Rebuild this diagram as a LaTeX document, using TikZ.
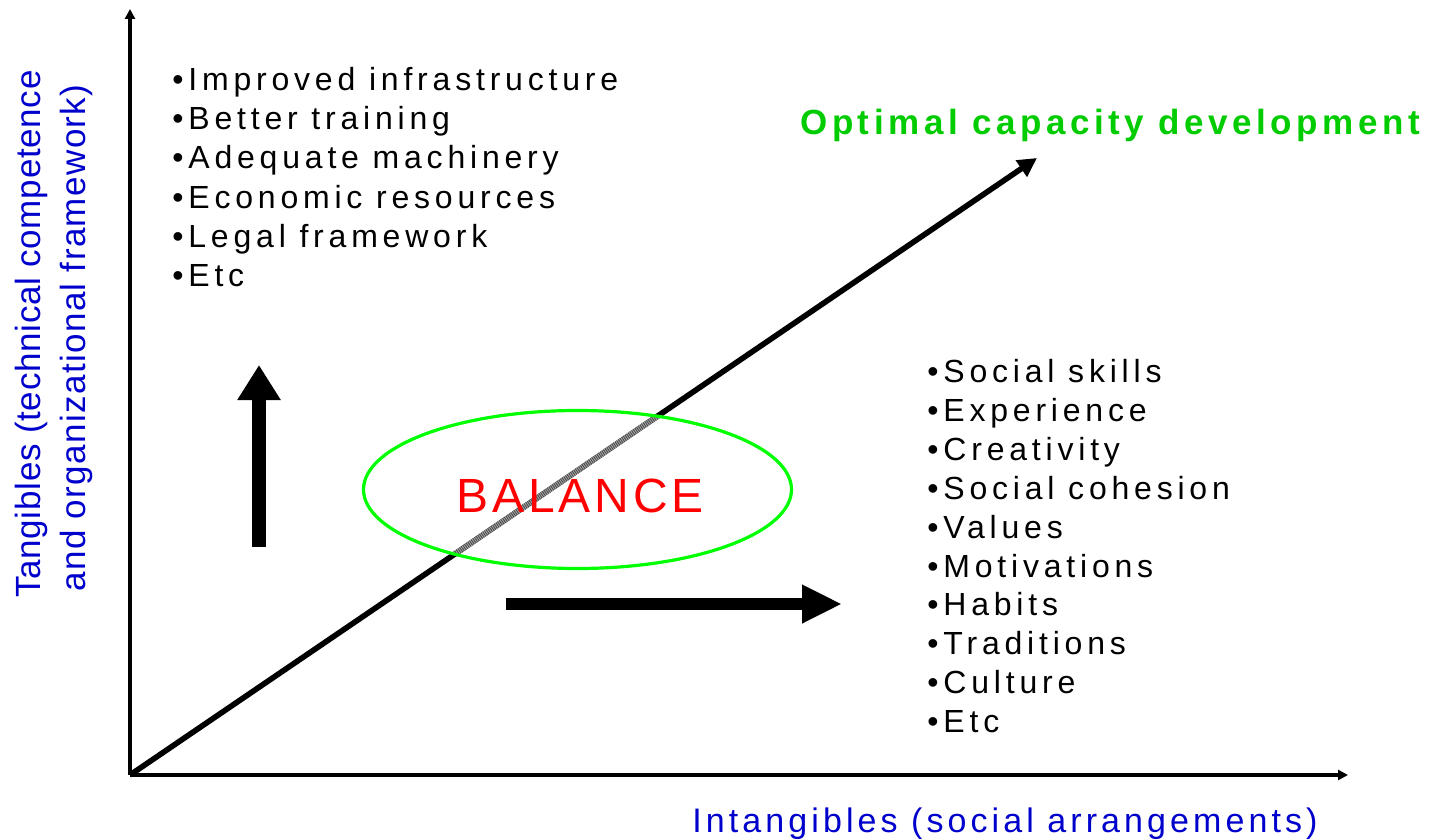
\documentclass[tikz,border=0pt]{standalone}
\usepackage{fontspec}
\setmainfont{Liberation Sans}
\newfontfamily\listfont[LetterSpace=15]{Liberation Sans}
\newfontfamily\titlefont[LetterSpace=13]{Liberation Sans}
\newfontfamily\xlabfont[LetterSpace=12]{Liberation Sans}
\newfontfamily\ylabfont[LetterSpace=2]{Liberation Sans}
\newfontfamily\ylabfontb[LetterSpace=4]{Liberation Sans}
\newfontfamily\balfont[LetterSpace=8]{Liberation Sans}
\usetikzlibrary{arrows.meta}
\definecolor{labblue}{RGB}{0,0,204}
\definecolor{titlegreen}{RGB}{0,204,0}
\definecolor{ellgreen}{RGB}{0,255,0}
\definecolor{balred}{RGB}{255,0,0}
\begin{document}
\begin{tikzpicture}[x=0.5pt,y=-0.5pt,
  axis/.style={line width=2pt,-{Triangle[length=5pt,width=5pt]}},
  diag/.style={line width=2.8pt,-{Triangle[length=9.5pt,width=9.5pt]}},
  bigv/.style={line width=7pt,-{Triangle[length=17.5pt,width=20.5pt]}},
  bigh/.style={line width=6pt,-{Triangle[length=20pt,width=18pt]}},
  listitem/.style={anchor=base west,inner sep=0pt,font=\listfont\fontsize{16pt}{19pt}\selectfont},
  ylab/.style={anchor=base,inner sep=0pt,rotate=90,text=labblue,font=\ylabfont\fontsize{17.5pt}{21pt}\selectfont},
  ylabb/.style={ylab,font=\ylabfontb\fontsize{17.5pt}{21pt}\selectfont},
  xlab/.style={anchor=base,inner sep=0pt,text=labblue,font=\xlabfont\fontsize{17pt}{20pt}\selectfont},
  title/.style={anchor=base,inner sep=0pt,text=titlegreen,font=\titlefont\bfseries\fontsize{17.5pt}{21pt}\selectfont},
  baltext/.style={anchor=base,inner sep=0pt,text=balred,font=\balfont\fontsize{24pt}{28pt}\selectfont},
  ellframe/.style={draw=ellgreen,line width=1.6pt}
]
\useasboundingbox (0,0) rectangle (1430,840);
% coordinates
\coordinate (O) at (130,775);
\coordinate (Ytip) at (130,9);
\coordinate (Xtip) at (1348,775);
\coordinate (Dtip) at (1037,158);
\coordinate (Vs) at (259,547);
\coordinate (Ve) at (259,365);
\coordinate (Hs) at (506,604);
\coordinate (He) at (842,604);
% axes
\draw[axis] (O) -- (Ytip);
\draw[axis] (O) -- (Xtip);
% diagonal
\draw[diag] (O) -- (Dtip);
\begin{scope}
  \clip (577.5,489.5) ellipse [x radius=214, y radius=79];
  \draw[line width=2.8pt, gray!60] (O) -- (Dtip);
  \draw[line width=2.8pt, gray!140, dash pattern=on 0.5pt off 0.5pt] (O) -- (Dtip);
\end{scope}
\draw[ellframe] (577.5,489.5) ellipse [x radius=214, y radius=79];
% big arrows
\draw[bigv] (Vs) -- (Ve);
\draw[bigh] (Hs) -- (He);
% texts
\node[baltext] (bal) at (580,512) {BALANCE};
\node[title] (opt) at (1110,134) {Optimal capacity development};
\node[xlab] (xl) at (1005,832) {Intangibles (social arrangements)};
\node[ylab] (yl1) at (40,334) {Tangibles (technical competence};
\node[ylabb] (yl2) at (85,338) {and organizational framework)};
\foreach \t [count=\i] in {Improved infrastructure,Better training,Adequate machinery,Economic resources,Legal framework,Etc}
  \node[listitem] (L\i) at (172,{91+39*(\i-1)}) {•\t};
\foreach \t [count=\i] in {Social skills,Experience,Creativity,Social cohesion,Values,Motivations,Habits,Traditions,Culture,Etc}
  \node[listitem] (R\i) at (927,{382.5+38.9*(\i-1)}) {•\t};
\end{tikzpicture}
\end{document}
